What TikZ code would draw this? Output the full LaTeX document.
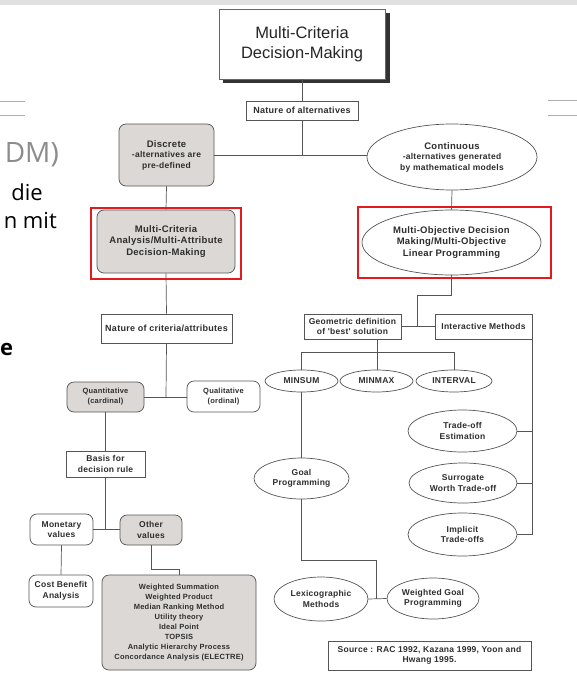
\documentclass[tikz,border=0pt]{standalone}
\usepackage{fontspec}
\setmainfont{Liberation Sans}
\newfontfamily\diag[LetterSpace=3]{Liberation Sans}
\newfontfamily\slidefont{Open Sans}
\usetikzlibrary{shapes.geometric}
\definecolor{lc}{HTML}{555555}
\definecolor{tc}{HTML}{2E2E2E}
\definecolor{gfill}{HTML}{DCD8D5}
\definecolor{redbox}{HTML}{E31B1F}
\definecolor{slidegray}{HTML}{8C8C8C}
\newcommand{\fsS}{\diag\fontsize{8.5}{10.5}\selectfont\bfseries}
\newcommand{\fsN}{\diag\fontsize{9}{10.5}\selectfont\bfseries}
\newcommand{\fsM}{\diag\fontsize{9.5}{11.8}\selectfont\bfseries}
\newcommand{\fsX}{\diag\fontsize{7.5}{10}\selectfont\bfseries}
\newcommand{\fsT}{\fontsize{16.5}{20}\selectfont}
\tikzset{
  base/.style={draw=lc, line width=0.7pt, text=tc, font=\fsS, align=center, inner sep=0pt},
  sz/.style 2 args={minimum width=#1pt, minimum height=#2pt},
  sqbox/.style={base, rectangle},
  rbox/.style={base, rectangle, rounded corners=7pt},
  gbox/.style={rbox, fill=gfill},
  ell/.style={base, ellipse},
  conn/.style={draw=lc, line width=0.7pt},
  redframe/.style={draw=redbox, line width=2.6pt},
  slideline/.style={draw=slidegray!70, line width=0.6pt}
}
\begin{document}
\begin{tikzpicture}[x=1pt,y=-1pt]
\useasboundingbox (0,0) rectangle (577,687);
\fill[white] (0,0) rectangle (577,687);
% slide background elements
\fill[black!12] (0,0) rectangle (577,5);
\draw[slideline] (0,101) -- (25,101) (0,115) -- (25,115);
\draw[slideline] (548,100) -- (577,100) (548,115) -- (577,115);
\node[anchor=base east, inner sep=0pt, text=slidegray, font=\slidefont\fontsize{28}{30}\selectfont] (sdm) at (59,162) {DM)};
\node[anchor=base east, inner sep=0pt, font=\slidefont\fontsize{22}{24}\selectfont] (sdie) at (43,200) {die};
\node[anchor=base east, inner sep=0pt, font=\slidefont\fontsize{22}{24}\selectfont] (smit) at (57,228) {n mit};
\node[anchor=base west, inner sep=0pt, font=\slidefont\bfseries\fontsize{22}{24}\selectfont] (se) at (0,355) {e};

% title with shadow
\fill[black!80] (223,13) rectangle (390,83);
\node[sqbox, sz={166}{70}, fill=white, draw=black!60, font=\fsT, text=black!85] (title) at (302,44) {Multi-Criteria\\Decision-Making};

\node[sqbox, sz={112}{19}, font=\fsN] (natalt) at (302,110.5) {Nature of alternatives};
\node[gbox, sz={95}{62}] (discrete) at (166.5,155) {{\fontsize{9.5}{11}\selectfont Discrete}\\-alternatives are\\pre-defined};
\node[ell, sz={170}{66}] (cont) at (452,157) {{\fontsize{9.5}{11}\selectfont Continuous}\\-alternatives generated\\by mathematical models};
\node[gbox, sz={138}{63}, font=\fsM] (mca) at (166,241.5) {Multi-Criteria\\Analysis/Multi-Attribute\\Decision-Making};
\node[ell, sz={179}{65}, font=\fsM] (modm) at (451.5,242.5) {Multi-Objective Decision\\Making/Multi-Objective\\Linear Programming};

\node[sqbox, sz={131}{29}, font=\fsN] (natcrit) at (166.5,328.5) {Nature of criteria/attributes};
\node[sqbox, sz={97}{25}] (geom) at (352.5,326.5) {Geometric definition\\of 'best' solution};
\node[sqbox, sz={97}{25}] (inter) at (483.5,326.5) {Interactive Methods};

\node[ell, sz={73}{22}] (minsum) at (301.5,381) {MINSUM};
\node[ell, sz={73}{22}] (minmax) at (376.5,381) {MINMAX};
\node[ell, sz={76}{22}] (interval) at (454,381) {INTERVAL};

\node[gbox, sz={77}{30}, font=\fsX] (quant) at (105.5,397) {Quantitative\\(cardinal)};
\node[rbox, sz={73}{31}, font=\fsX] (qual) at (223.5,396.5) {Qualitative\\(ordinal)};

\node[ell, sz={109}{42}] (tradeoff) at (462.5,431) {Trade-off\\Estimation};
\node[sqbox, sz={79}{26}] (basis) at (105.5,464) {Basis for\\decision rule};
\node[ell, sz={95}{41}] (goal) at (301.5,478.5) {Goal\\Programming};
\node[ell, sz={108}{40}] (surr) at (463,483) {Surrogate\\Worth Trade-off};
\node[rbox, sz={63}{31}] (monetary) at (61.5,529.5) {Monetary\\values};
\node[gbox, sz={62}{30}] (other) at (151,530) {Other\\values};
\node[ell, sz={109}{43}] (implicit) at (462.5,534.5) {Implicit\\Trade-offs};
\node[rbox, sz={64}{32}] (costben) at (61,591) {Cost Benefit\\Analysis};
\node[gbox, sz={154}{95}, font=\fsX] (methods) at (179,622.5) {Weighted Summation\\Weighted Product\\Median Ranking Method\\Utility theory\\Ideal Point\\TOPSIS\\Analytic Hierarchy Process\\Concordance Analysis (ELECTRE)};
\node[ell, sz={94}{44}] (lex) at (321,599) {Lexicographic\\Methods};
\node[ell, sz={92}{41}] (wgoal) at (433,598.5) {Weighted Goal\\Programming};
\node[sqbox, sz={203}{29}] (source) at (429.5,655.5) {Source : RAC 1992, Kazana 1999, Yoon and\\Hwang 1995.};

% junction coordinates
\coordinate (j1) at (302,155);
\coordinate (k) at (417,295);
\coordinate (jm) at (417,326.5);
\coordinate (gj) at (377,352);
\coordinate (qj) at (166,397);
\coordinate (bj) at (105.5,529);
\coordinate (oj) at (179,569);
\coordinate (gl) at (376,560);

% connectors
\draw[conn] (title.south) -- (natalt.north);
\draw[conn] (natalt.south) -- (j1);
\draw[conn] (discrete.east |- j1) -- (cont.west |- j1);
\draw[conn] (discrete.south) -- (mca.north);
\draw[conn] (cont.south) -- (modm.north);
\draw[conn] (modm.south) |- (k) -- (jm);
\draw[conn] (geom.east) -- (inter.west);
\draw[conn] (inter.east) -- (inter.east |- implicit.east);
\draw[conn] (tradeoff.east) -- (tradeoff.east -| inter.east);
\draw[conn] (surr.east) -- (surr.east -| inter.east);
\draw[conn] (implicit.east) -- (implicit.east -| inter.east);
\draw[conn] (geom.south -| gj) -- (gj);
\draw[conn] (minsum.north) |- (gj);
\draw[conn] (interval.north) |- (gj);
\draw[conn] (gj) -- (minmax.north -| gj);
\draw[conn] (minsum.south) -- (goal.north);
\draw[conn] (goal.south) |- (gl) -- (gl |- lex.east);
\draw[conn] (lex.east) -- (wgoal.west);
\draw[conn] (mca.south) -- (natcrit.north);
\draw[conn] (natcrit.south) -- (qj);
\draw[conn] (quant.east |- qj) -- (qual.west |- qj);
\draw[conn] (quant.south) -- (basis.north);
\draw[conn] (basis.south) -- (bj);
\draw[conn] (monetary.east |- bj) -- (other.west |- bj);
\draw[conn] (monetary.south) -- (costben.north);
\draw[conn] (other.south) |- (oj) -- (methods.north);

% red highlight frames
\draw[redframe] (91,208) rectangle (241,279);
\draw[redframe] (358,207) rectangle (551,278);
\end{tikzpicture}
\end{document}
